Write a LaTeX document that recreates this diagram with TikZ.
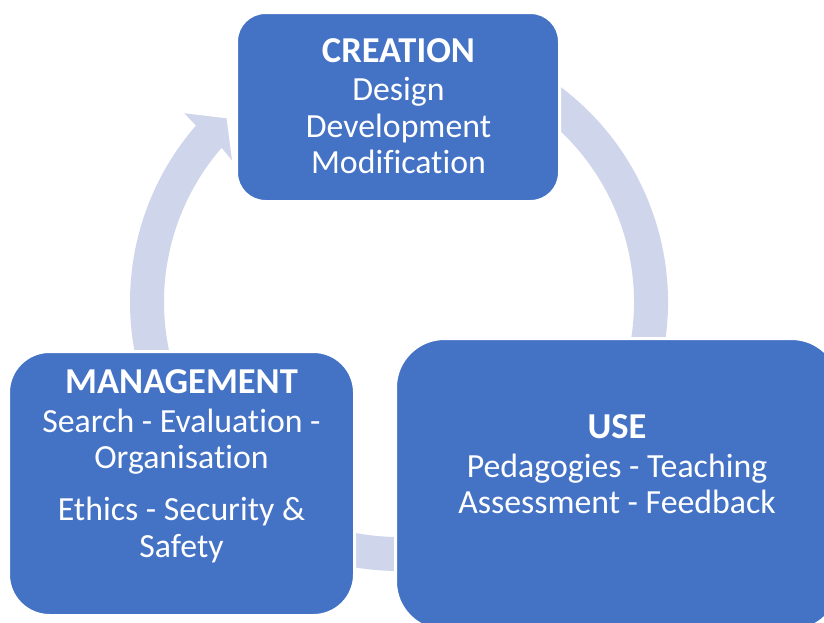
\documentclass[tikz,border=0pt]{standalone}
\usepackage{fontspec}
\setmainfont{Carlito}[Ligatures=NoCommon]
\definecolor{boxblue}{HTML}{4472C4}
\definecolor{ringblue}{HTML}{CFD5EA}
\begin{document}
\begin{tikzpicture}[x=1pt,y=-1pt,
  stage/.style={rectangle, draw=white, line width=3pt, fill=boxblue, inner sep=0pt},
  ring/.style={fill=ringblue},
  headline/.style={text=white, anchor=base, inner sep=0pt,
    font=\fontsize{36.5}{36}\selectfont\bfseries},
  bodyline/.style={text=white, anchor=base, inner sep=0pt,
    font=\fontsize{33.8}{36}\selectfont}]
\useasboundingbox (0,0) rectangle (824,622);

% centre of the cycle ring
\coordinate (hub) at (399,302);

% ring segments (drawn first, the stage boxes hide their ends)
\fill[ring] ([shift={(-60:269)}]hub) arc[start angle=-60, end angle=20, radius=269]
  -- ([shift={(20:235)}]hub) arc[start angle=20, end angle=-60, radius=235] -- cycle;
\fill[ring] ([shift={(80:269)}]hub) arc[start angle=80, end angle=110, radius=269]
  -- ([shift={(110:235)}]hub) arc[start angle=110, end angle=80, radius=235] -- cycle;
% segment ending in the arrow head
\fill[ring] ([shift={(160:269)}]hub) arc[start angle=160, end angle=221, radius=269]
  -- ([shift={(221.3:286)}]hub) -- ([shift={(226.8:252)}]hub)
  -- ([shift={(220.3:219)}]hub) -- ([shift={(221:235)}]hub)
  arc[start angle=221, end angle=160, radius=235] -- cycle;

% stage boxes
\node[stage, minimum width=323pt, minimum height=189pt, rounded corners=29pt]
  (creation) at (398,107) {};
\node[stage, minimum width=346pt, minimum height=264pt, rounded corners=41pt]
  (management) at (181.5,483.5) {};
\node[stage, minimum width=445pt, minimum height=292pt, rounded corners=49pt]
  (use) at (618,484.5) {};

% CREATION
\node[headline] (cre0) at (398.5,62) {CREATION};
\node[bodyline] (cre1) at (398.5,100) {Design};
\node[bodyline] (cre2) at (398.5,137) {Development};
\node[bodyline] (cre3) at (398.5,173) {Modification};

% MANAGEMENT
\node[headline] (man0) at (181.5,393) {MANAGEMENT};
\node[bodyline] (man1) at (181.5,432) {Search - Evaluation -};
\node[bodyline] (man2) at (181.5,468) {Organisation};
\node[bodyline] (man3) at (181.5,520) {Ethics - Security \&};
\node[bodyline] (man4) at (181.5,557) {Safety};

% USE
\node[headline] (use0) at (617,438) {USE};
\node[bodyline] (use1) at (617,477) {Pedagogies - Teaching};
\node[bodyline] (use2) at (617,513) {Assessment - Feedback};
\end{tikzpicture}
\end{document}
